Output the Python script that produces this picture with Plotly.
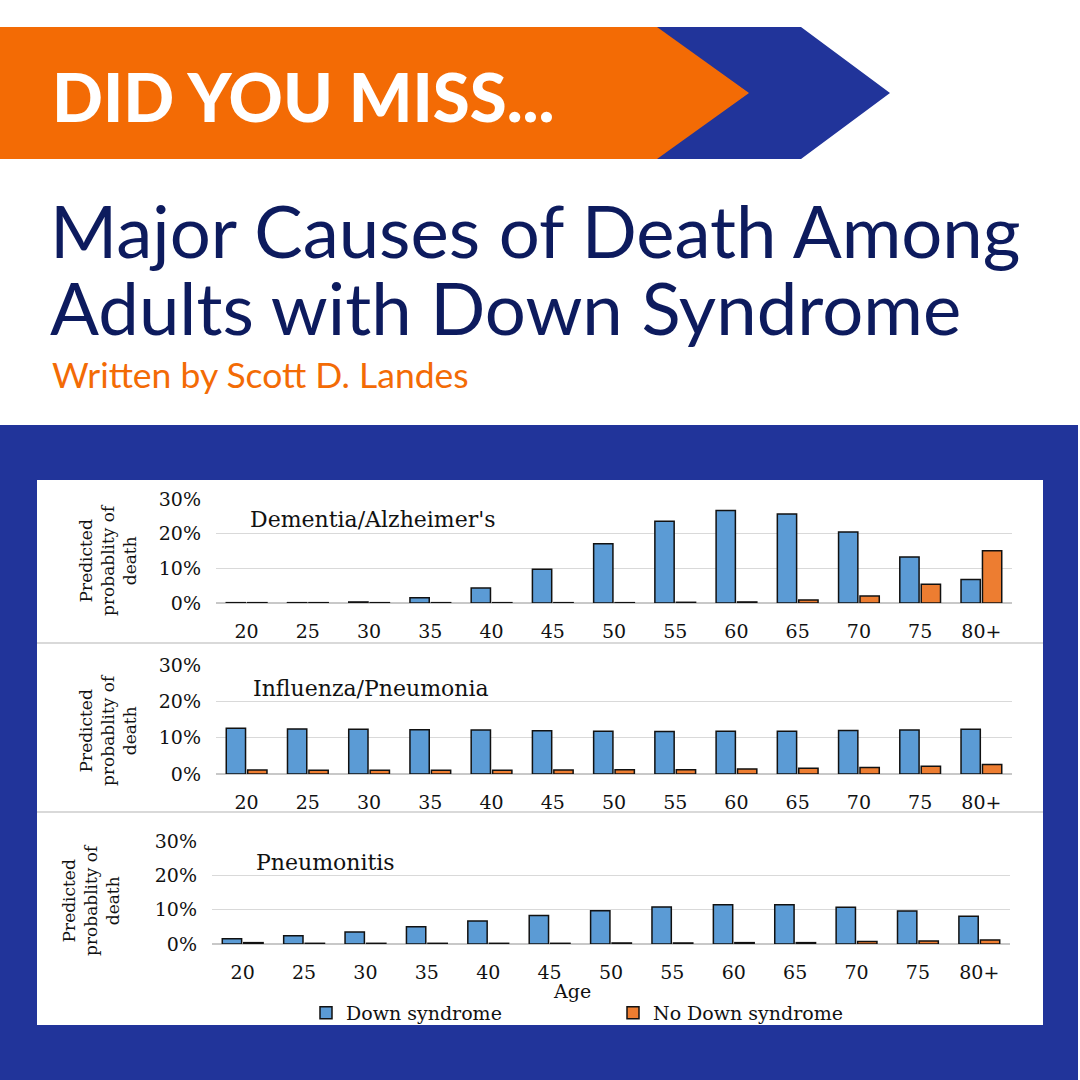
import plotly.graph_objects as go
from plotly.subplots import make_subplots

# age groups on the x axis
ages = ["20", "25", "30", "35", "40", "45", "50", "55", "60", "65", "70", "75", "80+"]

# predicted probability of death (%)
dementia_ds = [0.1, 0.1, 0.3, 1.5, 4.3, 9.7, 17.1, 23.6, 26.7, 25.7, 20.5, 13.3, 6.8]
dementia_no = [0.1, 0.1, 0.1, 0.1, 0.1, 0.1, 0.1, 0.2, 0.3, 0.9, 2.0, 5.4, 15.1]
flu_ds = [12.6, 12.4, 12.3, 12.2, 12.1, 11.9, 11.8, 11.7, 11.8, 11.8, 12.0, 12.1, 12.3]
flu_no = [1.1, 1.0, 1.0, 1.0, 1.0, 1.1, 1.2, 1.2, 1.4, 1.6, 1.8, 2.1, 2.6]
pneumonitis_ds = [1.5, 2.4, 3.5, 5.0, 6.7, 8.3, 9.7, 10.8, 11.4, 11.4, 10.7, 9.6, 8.1]
pneumonitis_no = [0.4, 0.2, 0.2, 0.2, 0.2, 0.2, 0.3, 0.3, 0.4, 0.4, 0.7, 0.9, 1.2]

panel_titles = ["Dementia/Alzheimer's", "Influenza/Pneumonia", "Pneumonitis"]
series_names = ["Down syndrome", "No Down syndrome"]

BLUE = "#5b9bd5"
ORANGE = "#ed7d31"
NAVY = "#21349a"
HEAD_ORANGE = "#f36b05"
TITLE_NAVY = "#0d1b5e"
SERIF = "DejaVu Serif"
SANS = "Lato"


def px(x):
    return x / 1080


def py(y):
    return 1 - y / 1080


fig = make_subplots(rows=3, cols=1)

data = [(dementia_ds, dementia_no), (flu_ds, flu_no), (pneumonitis_ds, pneumonitis_no)]
for i, (ds, no) in enumerate(data):
    row = i + 1
    fig.add_trace(go.Bar(x=ages, y=ds, name=series_names[0], marker_color=BLUE,
                         marker_line=dict(color="#111111", width=1.5),
                         showlegend=(i == 0), legendgroup="ds"), row=row, col=1)
    fig.add_trace(go.Bar(x=ages, y=no, name=series_names[1], marker_color=ORANGE,
                         marker_line=dict(color="#111111", width=1.5),
                         showlegend=(i == 0), legendgroup="no"), row=row, col=1)

y_pix = [(603, 499), (774, 665), (944, 841)]
x_pix = [(216, 1012), (216, 1012), (212, 1010)]
for i in range(3):
    row = i + 1
    fig.update_xaxes(domain=[px(x_pix[i][0]), px(x_pix[i][1])], showgrid=False,
                     showline=False, ticks="", ticklabelstandoff=15, automargin=False,
                     tickfont=dict(family=SERIF, size=19, color="#111111"),
                     row=row, col=1)
    fig.update_yaxes(domain=[py(y_pix[i][0]), py(y_pix[i][1])], range=[0, 30],
                     dtick=10, ticksuffix="%", showgrid=True, gridcolor="#d9d9d9",
                     gridwidth=1, zeroline=True, zerolinecolor="#c8c8c8", zerolinewidth=1.5,
                     showline=False, ticks="", ticklabelstandoff=14, automargin=False,
                     tickfont=dict(family=SERIF, size=19, color="#111111"),
                     row=row, col=1)

shapes = [
    # blue frame and white chart card
    dict(type="rect", xref="paper", yref="paper", x0=0, x1=px(1078), y0=0, y1=py(425),
         fillcolor=NAVY, line_width=0, layer="below"),
    dict(type="rect", xref="paper", yref="paper", x0=px(37), x1=px(1043), y0=py(1025), y1=py(480),
         fillcolor="white", line_width=0, layer="below"),
    # header banner
    dict(type="path", xref="paper", yref="paper", layer="below", fillcolor=NAVY, line_width=0,
         path=f"M {px(655)},{py(27)} L {px(801)},{py(27)} L {px(890)},{py(93)} "
              f"L {px(801)},{py(159)} L {px(655)},{py(159)} L {px(748)},{py(93)} Z"),
    dict(type="path", xref="paper", yref="paper", layer="below", fillcolor=HEAD_ORANGE, line_width=0,
         path=f"M 0,{py(27)} L {px(657)},{py(27)} L {px(749)},{py(93)} "
              f"L {px(657)},{py(159)} L 0,{py(159)} Z"),
]
for sep in (643, 812):
    shapes.append(dict(type="line", xref="paper", yref="paper", x0=px(37), x1=px(1043),
                       y0=py(sep), y1=py(sep), line=dict(color="#d9d9d9", width=2), layer="below"))

# two-line title: small base size sets the tight line spacing, spans set the glyph size
title_text = ('<span style="font-size:72.5px">Major Causes of Death Among</span><br>'
              '<span style="font-size:72.5px">Adults with Down Syndrome</span>')

annotations = [
    dict(text="DID YOU MISS...", x=px(50), y=py(96), xanchor="left", yanchor="middle",
         font=dict(family=SANS, size=67, color="white", weight=900)),
    dict(text=title_text, x=px(48), y=py(268), xanchor="left", yanchor="middle", align="left",
         font=dict(family=SANS, size=59, color=TITLE_NAVY)),
    dict(text="Written by Scott D. Landes", x=px(50), y=py(374), xanchor="left", yanchor="middle",
         font=dict(family=SANS, size=35.5, color=HEAD_ORANGE)),
    dict(text="Age", x=px(572), y=py(991), xanchor="center", yanchor="middle",
         font=dict(family=SERIF, size=19, color="#111111")),
]

title_pos = [(248, 519), (251, 688), (254, 862)]
ytitle_pos = [(108, 560), (108, 730), (91, 900)]
for i in range(3):
    annotations.append(dict(text=panel_titles[i], x=px(title_pos[i][0]), y=py(title_pos[i][1]),
                            xanchor="left", yanchor="middle",
                            font=dict(family=SERIF, size=22, color="#111111")))
    annotations.append(dict(text="Predicted<br>probablity of<br>death", textangle=-90,
                            x=px(ytitle_pos[i][0]), y=py(ytitle_pos[i][1]),
                            xanchor="center", yanchor="middle", align="center",
                            font=dict(family=SERIF, size=17, color="#111111")))
for a in annotations:
    a.update(xref="paper", yref="paper", showarrow=False)

fig.update_layout(
    width=1080, height=1080,
    margin=dict(l=0, r=0, t=0, b=0, autoexpand=False),
    paper_bgcolor="white",
    plot_bgcolor="rgba(0,0,0,0)",
    barmode="group", bargap=0.3, bargroupgap=0.1,
    shapes=shapes,
    annotations=annotations,
    showlegend=True,
    legend=dict(orientation="h", x=px(306), y=py(994), xanchor="left", yanchor="top",
                entrywidth=262, entrywidthmode="pixels", bgcolor="rgba(0,0,0,0)",
                font=dict(family=SERIF, size=19, color="#111111"), itemwidth=30,
                tracegroupgap=0),
)

fig.write_html("out.html", config={"displayModeBar": False},
               post_script="document.body.style.margin='0';")
